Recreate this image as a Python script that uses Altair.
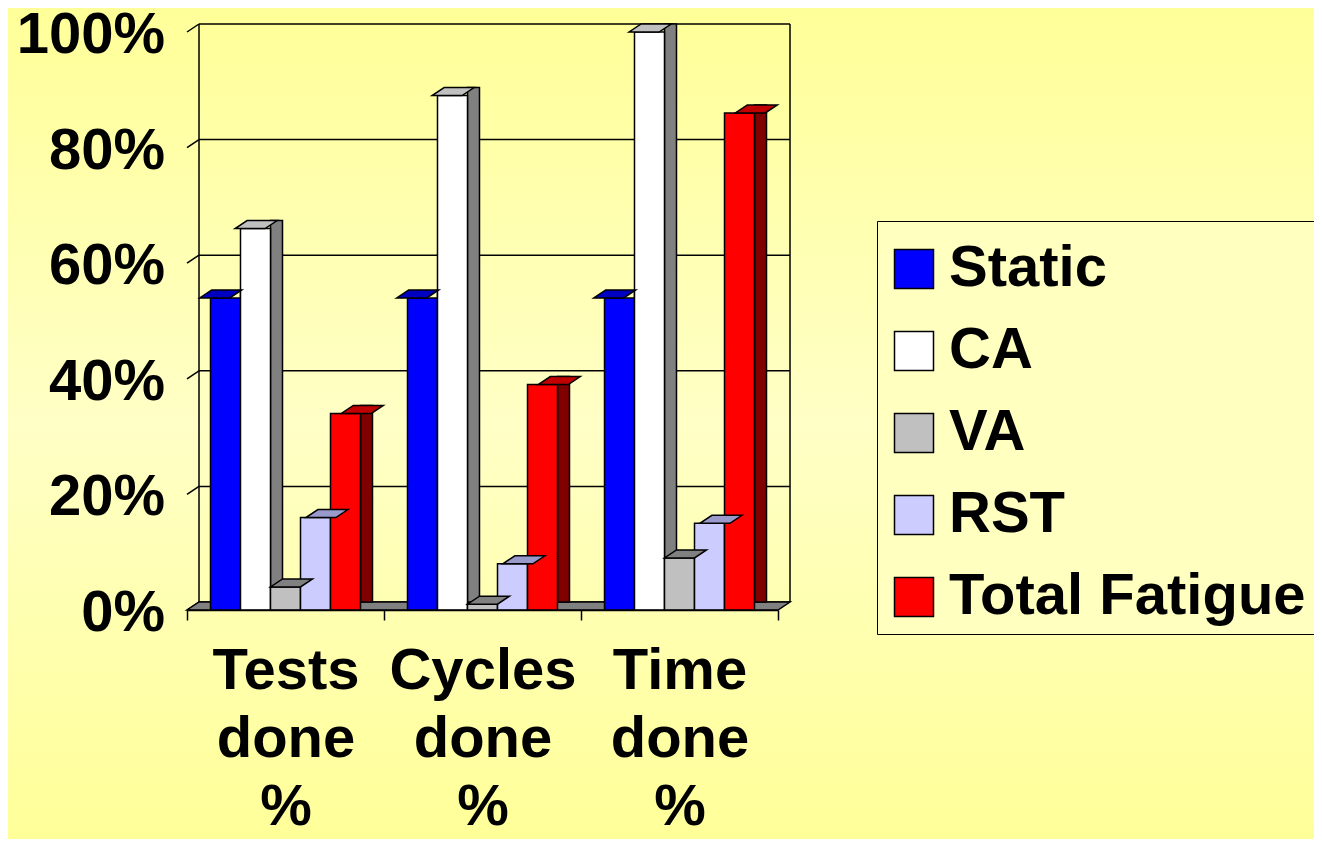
import altair as alt
import pandas as pd

# ---------------- data ----------------
categories = ["Tests done %", "Cycles done %", "Time done %"]
series = ["Static", "CA", "VA", "RST", "Total Fatigue"]
static_vals = [54, 54, 54]
ca_vals = [66, 89, 100]
va_vals = [4, 1, 9]
rst_vals = [16, 8, 15]
total_vals = [34, 39, 86]
y_ticks = [0, 20, 40, 60, 80, 100]

front_colors = ["#0000FF", "#FFFFFF", "#C0C0C0", "#CCCCFF", "#FF0000"]
top_colors = ["#0000C0", "#C0C0C0", "#808080", "#9999CC", "#C00000"]
side_colors = ["#000080", "#808080", "#606060", "#666699", "#800000"]

values_by_series = [static_vals, ca_vals, va_vals, rst_vals, total_vals]
rows = []
for s, vals in zip(series, values_by_series):
    for c, v in zip(categories, vals):
        rows.append({"category": c, "series": s, "value": v})
df = pd.DataFrame(rows)
grid_df = pd.DataFrame({"v": y_ticks})

# ---------------- layout ----------------
W, H = 591, 578
DX, DY = 12, 8
PAD_L, PAD_T, PAD_R, PAD_B = 179, 24, 536, 229
PAD_OUT = 0.783
n = len(series)
band = W / len(categories)
BW = band / (n + 2 * PAD_OUT)
FONT = "Liberation Sans"
FS = 58
SW = 1.5

off_scale = alt.Scale(domain=series, paddingInner=0, paddingOuter=PAD_OUT)
y_scale = alt.Scale(domain=[0, 100], nice=False, zero=True)


def xscale(shift=0):
    return alt.Scale(domain=categories, paddingInner=0, paddingOuter=0,
                     range=[shift, W + shift])


gradient = alt.LinearGradient(
    gradient="linear",
    stops=[alt.GradientStop(color="#FFFF99", offset=0),
           alt.GradientStop(color="#FFFFC6", offset=0.5),
           alt.GradientStop(color="#FFFF99", offset=1)],
    x1=0, x2=0, y1=0, y2=1)

one = alt.Data(values=[{"k": 1}])

bg = alt.Chart(one).mark_rect(fill=gradient, strokeWidth=0).encode(
    x=alt.value(-PAD_L), x2=alt.value(W + PAD_R),
    y=alt.value(-PAD_T), y2=alt.value(H + PAD_B))

grid = alt.Chart(grid_df).mark_rule(color="black", strokeWidth=SW, yOffset=-DY).encode(
    y=alt.Y("v:Q", scale=y_scale, axis=None, title=None),
    x=alt.value(DX), x2=alt.value(W + DX))

diag = alt.Chart(grid_df).mark_rule(color="black", strokeWidth=SW, y2Offset=-DY).encode(
    y=alt.Y("v:Q", scale=y_scale, axis=None, title=None),
    y2=alt.Y2("v:Q"),
    x=alt.value(0), x2=alt.value(DX))

wall_l = alt.Chart(one).mark_rule(color="black", strokeWidth=SW).encode(
    x=alt.value(DX), y=alt.value(-DY), y2=alt.value(H - DY))
wall_r = alt.Chart(one).mark_rule(color="black", strokeWidth=SW).encode(
    x=alt.value(W + DX), y=alt.value(-DY), y2=alt.value(H - DY))

floor_path = f"M0,0 L{W},0 L{W + DX},{-DY} L{DX},{-DY} Z"
floor = alt.Chart(one).mark_point(
    shape=floor_path, size=4, filled=True, fill="#808080", stroke="black",
    strokeWidth=SW, opacity=1).encode(x=alt.value(0), y=alt.value(H))

side = alt.Chart(df).mark_bar(
    width=DX, stroke="black", strokeWidth=SW, yOffset=-DY, y2Offset=-DY, opacity=1).encode(
    x=alt.X("category:N", scale=xscale(BW / 2 + DX / 2), axis=None, title=None),
    xOffset=alt.XOffset("series:N", scale=off_scale),
    y=alt.Y("value:Q", scale=y_scale, axis=None, title=None),
    y2=alt.Y2(datum=0),
    color=alt.Color("series:N", scale=alt.Scale(domain=series, range=side_colors), legend=None))

front = alt.Chart(df).mark_bar(stroke="black", strokeWidth=SW, opacity=1).encode(
    x=alt.X("category:N", scale=xscale(0), title=None,
            axis=alt.Axis(labelExpr="split(datum.label, ' ')", labelFont=FONT,
                          labelFontSize=FS, labelFontWeight="bold", labelColor="black",
                          labelBaseline="top", labelLineHeight=68, labelPadding=22,
                          labelAngle=0, labelLimit=0, labelOverlap=False,
                          tickBand="extent", tickSize=10, tickColor="black", tickWidth=SW,
                          domainColor="black", domainWidth=SW, zindex=2)),
    xOffset=alt.XOffset("series:N", scale=off_scale),
    y=alt.Y("value:Q", scale=y_scale, title=None,
            axis=alt.Axis(values=y_ticks, labels=False, tickSize=10, tickColor="black",
                          tickWidth=SW, domainColor="black", domainWidth=SW, grid=False,
                          zindex=2)),
    y2=alt.Y2(datum=0),
    color=alt.Color("series:N", scale=alt.Scale(domain=series, range=front_colors),
                    legend=alt.Legend(orient="none", legendX=690, legendY=189, title=" ",
                                      titleFontSize=1, titlePadding=10,
                                      symbolType="square", symbolSize=1521,
                                      symbolStrokeColor="black", symbolStrokeWidth=SW,
                                      symbolOpacity=1, labelFont=FONT, labelFontSize=FS,
                                      labelFontWeight="bold", labelColor="black",
                                      labelLimit=0, labelOffset=6, rowPadding=24,
                                      padding=8, strokeColor="black",
                                      fillColor="#FFFFC0", zindex=3)))

top_path = f"M{-BW / 2:.2f},0 L{BW / 2:.2f},0 L{BW / 2 + DX:.2f},{-DY} L{-BW / 2 + DX:.2f},{-DY} Z"
top = alt.Chart(df).mark_point(
    shape=top_path, size=4, filled=True, stroke="black", strokeWidth=SW, opacity=1).encode(
    x=alt.X("category:N", scale=xscale(0), axis=None, title=None),
    xOffset=alt.XOffset("series:N", scale=off_scale),
    y=alt.Y("value:Q", scale=y_scale, axis=None, title=None),
    fill=alt.Fill("series:N", scale=alt.Scale(domain=series, range=top_colors), legend=None))

ylabels = alt.Chart(grid_df).transform_calculate(
    lab="datum.v + '%'"
).mark_text(align="right", baseline="middle", dy=4, font=FONT, fontSize=FS,
            fontWeight="bold", color="black").encode(
    y=alt.Y("v:Q", scale=y_scale, axis=None, title=None),
    x=alt.value(-22),
    text="lab:N")

chart = alt.layer(bg, grid, diag, wall_l, wall_r, floor, side, front, top, ylabels).resolve_scale(
    x="independent", xOffset="independent", color="independent", fill="independent"
).properties(
    width=W, height=H,
    padding={"left": PAD_L, "top": PAD_T, "right": PAD_R, "bottom": PAD_B},
    autosize=alt.AutoSizeParams(type="none"),
    background="#FFFF99",
).configure_view(strokeWidth=0)

chart.save("out.html", embed_options={"renderer": "svg", "actions": False})
